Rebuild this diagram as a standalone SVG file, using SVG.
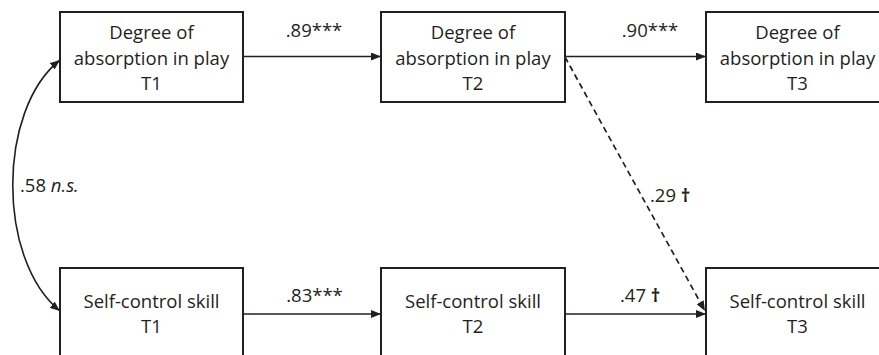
<svg xmlns="http://www.w3.org/2000/svg" width="879" height="355" viewBox="0 0 879 355">
<defs>
<marker id="ah" viewBox="0 0 10 8" refX="10" refY="4" markerWidth="10" markerHeight="8" markerUnits="userSpaceOnUse" orient="auto-start-reverse">
<path d="M0,0 L10,4 L0,8 z" fill="#231f20"/>
</marker>
<style>
.box{fill:#fff;stroke:#231f20;stroke-width:2}
.t{font-family:"Open Sans","Liberation Sans",sans-serif;font-size:18.5px;fill:#231f20;text-anchor:middle}
.l{font-family:"Open Sans","Liberation Sans",sans-serif;font-size:18.5px;fill:#231f20}
.e{fill:none;stroke:#231f20;stroke-width:1.6}
.d{stroke-dasharray:6 4;stroke-width:1.7}
.dag{font-weight:bold}
</style>
</defs>
<rect width="879" height="355" fill="#fff"/>
<g id="connectors">
<line class="e" x1="243" y1="56.5" x2="381" y2="56.5" marker-end="url(#ah)"/>
<line class="e" x1="565" y1="56.5" x2="706" y2="56.5" marker-end="url(#ah)"/>
<line class="e" x1="243" y1="314" x2="381" y2="314" marker-end="url(#ah)"/>
<line class="e" x1="565" y1="314" x2="706" y2="314" marker-end="url(#ah)"/>
<line class="e d" x1="565" y1="57" x2="705" y2="311" marker-end="url(#ah)"/>
<path class="e" d="M60,60 C-3,110 -3,260 60,311" marker-start="url(#ah)" marker-end="url(#ah)"/>
<text class="t" x="314" y="37">.89***</text>
<text class="t" x="650" y="37">.90***</text>
<text class="t" x="314.5" y="302">.83***</text>
<text class="l" x="620" y="302">.47 <tspan class="dag">†</tspan></text>
<text class="l" x="650" y="202">.29 <tspan class="dag">†</tspan></text>
<text class="l" x="20" y="192">.58 <tspan font-style="italic">n.s.</tspan></text>
</g>
<g id="absorption-t1">
<rect class="box" x="60" y="12" width="183" height="90"/>
<text class="t" x="151.5" y="39">Degree of</text>
<text class="t" x="151.5" y="65">absorption in play</text>
<text class="t" x="151.5" y="90">T1</text>
</g>
<g id="absorption-t2">
<rect class="box" x="381" y="12" width="184" height="90"/>
<text class="t" x="473" y="39">Degree of</text>
<text class="t" x="473" y="65">absorption in play</text>
<text class="t" x="473" y="90">T2</text>
</g>
<g id="absorption-t3">
<rect class="box" x="706" y="12" width="184" height="90"/>
<text class="t" x="797.5" y="39">Degree of</text>
<text class="t" x="797.5" y="65">absorption in play</text>
<text class="t" x="797.5" y="90">T3</text>
</g>
<g id="selfcontrol-t1">
<rect class="box" x="60" y="268" width="183" height="100"/>
<text class="t" x="151.5" y="308">Self-control skill</text>
<text class="t" x="151.5" y="333">T1</text>
</g>
<g id="selfcontrol-t2">
<rect class="box" x="381" y="268" width="184" height="100"/>
<text class="t" x="473" y="308">Self-control skill</text>
<text class="t" x="473" y="333">T2</text>
</g>
<g id="selfcontrol-t3">
<rect class="box" x="706" y="268" width="184" height="100"/>
<text class="t" x="797.5" y="308">Self-control skill</text>
<text class="t" x="797.5" y="333">T3</text>
</g>
</svg>
